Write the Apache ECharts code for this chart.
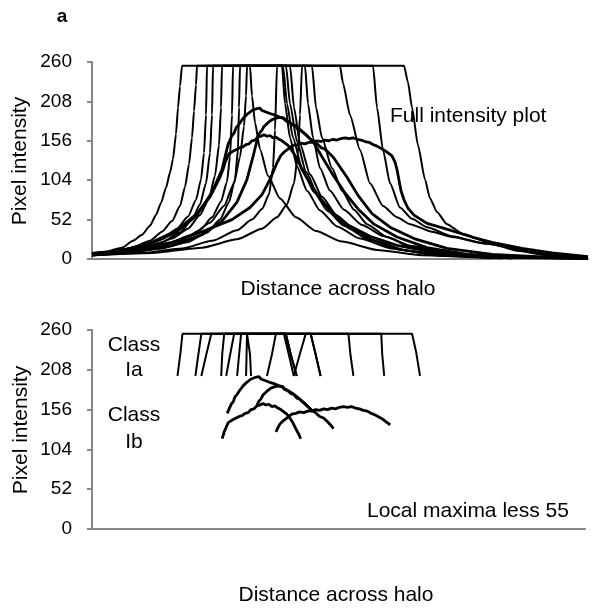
<!DOCTYPE html>
<html>
<head>
<meta charset="utf-8">
<script src="https://cdn.jsdelivr.net/npm/echarts@6/dist/echarts.min.js"></script>
<style>html,body{margin:0;padding:0;background:#fff}#c{width:606px;height:610px}</style>
</head>
<body>
<div id="c"></div>
<script>
// ---- axis ticks ----
const yTicks = [0, 52, 104, 156, 208, 260];
const xRange = [0, 496];

// ---- Full intensity plot: saturated halo profiles (class Ia) ----
const fullS1 = [[0,8],[15,10],[30,15],[41,24],[50,32],[58,44],[64,58],[69,74],[74,94],[78,114],[81,132],[84,165],[86,200],[88,228],[90,255],[312,255],[316,233],[320,200],[326,150],[333,105],[338,80],[345,62],[355,46],[371,33],[400,20],[425,11],[455,5],[496,1]];
const fullS2 = [[0,7],[20,10],[40,15],[58,24],[70,36],[80,50],[88,70],[93,95],[97,125],[100,160],[102,195],[104,230],[105,255],[281,255],[285,200],[291,144],[298,100],[308,68],[320,53],[335,42],[360,30],[391,21],[430,12],[460,6],[496,2]];
const fullS3 = [[0,7],[25,10],[50,16],[70,26],[85,40],[96,56],[104,78],[109,105],[112,140],[114,190],[115,255],[248,255],[251,232],[258,190],[268,144],[278,100],[291,70],[305,55],[318,46],[340,36],[360,29],[395,20],[425,14],[460,6],[496,2]];
const fullS4 = [[0,6],[25,9],[50,14],[70,22],[88,35],[100,52],[108,72],[114,100],[118,140],[120,190],[121,255],[220,255],[224,200],[230,160],[240,120],[250,90],[262,65],[275,46],[295,29],[320,15],[360,7],[420,3],[496,1]];
const fullS5 = [[0,7],[30,10],[60,17],[80,27],[96,40],[108,58],[117,80],[123,110],[127,150],[129,200],[130,255],[198,255],[202,200],[208,152],[218,112],[230,82],[245,57],[262,39],[285,23],[315,11],[360,4],[420,1]];
const fullS6 = [[0,6],[35,9],[65,15],[90,25],[108,38],[120,55],[129,76],[135,102],[138,135],[140,190],[141,255],[194,255],[198,205],[205,155],[214,115],[226,84],[240,60],[258,40],[280,25],[310,12],[350,5],[420,1]];
const fullS7 = [[0,6],[40,9],[70,14],[95,22],[115,35],[128,52],[137,75],[143,105],[146,145],[147,200],[148,255],[191,255],[195,205],[201,160],[210,120],[222,88],[236,63],[252,44],[275,27],[305,13],[345,5],[410,1]];
const fullS8 = [[0,7],[40,11],[75,20],[100,32],[118,48],[132,70],[142,100],[148,135],[152,175],[154,215],[155,255],[158,255],[160,215],[163,180],[168,145],[176,110],[188,80],[204,55],[224,37],[250,23],[285,12],[330,5],[400,1]];
const fullS9 = [[0,5],[50,8],[90,14],[120,24],[145,38],[160,52],[170,66],[177,85],[181,120],[183,170],[185,255],[190,255],[193,205],[198,160],[205,122],[215,90],[228,64],[245,43],[268,27],[300,14],[345,5],[410,1]];
const fullS10 = [[0,5],[60,8],[110,15],[145,26],[170,40],[185,55],[195,72],[202,100],[206,140],[208,190],[210,255],[213,255],[216,205],[221,160],[228,120],[238,90],[252,65],[270,45],[292,30],[320,17],[360,7],[420,2],[496,1]];

// ---- Local maxima less 55: saturated segments (class Ia) ----
const locS1 = [[86,200],[89,230],[91,255],[322,255],[326,232],[330,200]];
const locS2 = [[104,200],[107,228],[110,255],[291,255],[292,228],[294,200]];
const locS3 = [[110,200],[115,228],[120,255],[258,255],[260,228],[263,200]];
const locS4 = [[130,200],[131,228],[133,255],[220,255],[225,228],[230,200]];
const locS5 = [[135,200],[139,228],[143,255],[195,255],[200,228],[206,200]];
const locS6 = [[146,200],[148,228],[150,255],[193,255],[198,228],[203,200]];
const locS7 = [[155,200],[155.5,228],[156,255],[158,255],[159,228],[160,200]];
const locS8 = [[176,200],[181,228],[185,255],[195,255],[200,228],[206,200]];
const locS9 = [[203,200],[209,228],[215,255],[220,255],[225,228],[230,200]];

// ---- Local maxima less 55: unsaturated arcs (class Ib) ----
const locB1 = [[136,151],[138,157],[140,163],[142,166],[144,173],[146,176],[148,180],[150,182],[152,187],[154,188],[156,192],[158,193],[160,196],[162,195],[164,198],[166,197],[168,199],[170,196],[172,197],[174,194],[176,195],[178,192],[180,193],[183,190],[185,191],[188,187],[191,186],[194,182],[197,181],[200,177],[203,176],[206,171],[209,170],[213,165],[217,160],[221,155]];
const locB2 = [[166,162],[168,167],[170,170],[172,175],[174,176],[176,180],[178,181],[180,184],[182,183],[184,186],[186,185],[188,187],[190,185],[192,186],[194,183],[196,184],[198,180],[200,181],[202,177],[204,177],[206,173],[208,172],[211,167],[214,164],[217,160],[221,155],[225,152],[229,147],[233,145],[237,140],[240,136],[243,131]];
const locB3 = [[131,118],[133,127],[135,133],[137,139],[139,140],[142,143],[145,145],[148,147],[151,148],[154,151],[157,152],[160,156],[163,157],[166,161],[169,162],[172,164],[175,162],[178,163],[181,160],[184,161],[187,158],[190,156],[193,153],[196,150],[199,145],[202,139],[205,131],[208,124],[210,118]];
const locB4 = [[185,127],[187,132],[189,137],[192,141],[195,144],[198,147],[201,150],[205,151],[209,153],[213,152],[217,154],[221,154],[225,156],[229,155],[233,157],[237,156],[241,158],[245,157],[249,159],[253,160],[257,159],[261,160],[265,158],[269,157],[273,155],[277,154],[281,151],[285,149],[289,146],[293,143],[297,139],[300,136]];

// ---- Full intensity plot: tails of the unsaturated profiles (outside the top-55 band) ----
const riseB1 = [[0,6],[30,11],[60,21],[85,36],[105,58],[120,88],[130,118]];
const fallB1 = [[230,135],[240,113],[252,89],[266,66],[282,46],[305,29],[335,15],[375,6],[430,2],[496,1]];
const riseB2 = [[0,5],[40,9],[80,18],[110,32],[130,50],[145,75],[155,105],[161,135]];
const fallB2 = [[255,108],[266,84],[280,60],[298,42],[322,27],[355,14],[400,6],[460,2],[496,1]];
const riseB3 = [[0,6],[30,11],[60,22],[85,38],[105,60],[118,82],[127,105]];
const fallB3 = [[218,100],[228,80],[240,62],[256,45],[278,30],[305,18],[345,8],[400,3],[496,1]];
const riseB4 = [[0,5],[40,11],[80,22],[110,36],[140,52],[158,68],[170,85],[178,105]];
const fallB4 = [[303,128],[305,118],[307,104],[309,90],[312,78],[316,67],[322,58],[335,47],[358,38],[380,29],[400,22],[430,14],[460,8],[496,3]];

const fullSat = [fullS1, fullS2, fullS3, fullS4, fullS5, fullS6, fullS7, fullS8, fullS9, fullS10];
const fullUns = [
  riseB1.concat(locB1, fallB1),
  riseB2.concat(locB2, fallB2),
  riseB3.concat(locB3, fallB3),
  riseB4.concat(locB4, fallB4)
];
const locSat = [locS1, locS2, locS3, locS4, locS5, locS6, locS7, locS8, locS9];
const locUns = [locB1, locB2, locB3, locB4];

const FONT = 'Liberation Sans, Arial, sans-serif';
const GRAY = '#878787';

function mk(data, g, w, sm) {
  return {
    type: 'line', xAxisIndex: g, yAxisIndex: g, data: data,
    showSymbol: false, symbol: 'none', silent: true,
    smooth: sm, smoothMonotone: 'x',
    lineStyle: { color: '#000', width: w }
  };
}

const series = [];
fullSat.forEach(d => series.push(mk(d, 0, 2, 0.2)));
fullUns.forEach(d => series.push(mk(d, 0, 2.8, 0)));
locSat.forEach(d => series.push(mk(d, 1, 2, 0)));
locUns.forEach(d => series.push(mk(d, 1, 2.8, 0)));

function xAx(g) {
  return {
    type: 'value', gridIndex: g, min: xRange[0], max: xRange[1],
    axisLine: { show: true, lineStyle: { color: GRAY, width: 2 } },
    axisTick: { show: false }, axisLabel: { show: false }, splitLine: { show: false }
  };
}
function yAx(g) {
  return {
    type: 'value', gridIndex: g, min: yTicks[0], max: yTicks[yTicks.length - 1],
    interval: yTicks[1] - yTicks[0],
    axisLine: { show: true, lineStyle: { color: GRAY, width: 2 } },
    axisTick: { show: true, inside: false, length: 5, lineStyle: { color: GRAY, width: 2 } },
    axisLabel: { show: true, color: '#000', fontSize: 19, fontFamily: FONT, margin: 20 },
    splitLine: { show: false }
  };
}

function txt(text, x, y, size, opts) {
  return Object.assign({
    type: 'text', x: x, y: y, silent: true,
    style: Object.assign({ text: text, fill: '#000', font: size + 'px ' + FONT,
      textAlign: 'center', textVerticalAlign: 'middle' }, (opts && opts.style) || {})
  }, (opts && opts.el) || {});
}

const chart = echarts.init(document.getElementById('c'), null, { renderer: 'canvas' });
chart.setOption({
  animation: false,
  backgroundColor: '#fff',
  grid: [
    { left: 92, right: 18, top: 62, height: 197 },
    { left: 92, right: 21, top: 330, height: 199 }
  ],
  xAxis: [xAx(0), xAx(1)],
  yAxis: [yAx(0), yAx(1)],
  series: series,
  graphic: [
    txt('a', 62, 17, 19, { style: { font: 'bold 19px ' + FONT } }),
    txt('Full intensity plot', 390, 116, 21, { style: { textAlign: 'left' } }),
    txt('Distance across halo', 338, 289, 21),
    txt('Pixel intensity', 20, 161, 21, { el: { rotation: Math.PI / 2 } }),
    txt('Class', 134, 345, 21),
    txt('Ia', 134, 370, 21),
    txt('Class', 134, 415, 21),
    txt('Ib', 134, 442, 21),
    txt('Local maxima less 55', 367, 511, 21, { style: { textAlign: 'left' } }),
    txt('Distance across halo', 336, 595, 21),
    txt('Pixel intensity', 21, 430, 21, { el: { rotation: Math.PI / 2 } })
  ]
});
</script>
</body>
</html>
